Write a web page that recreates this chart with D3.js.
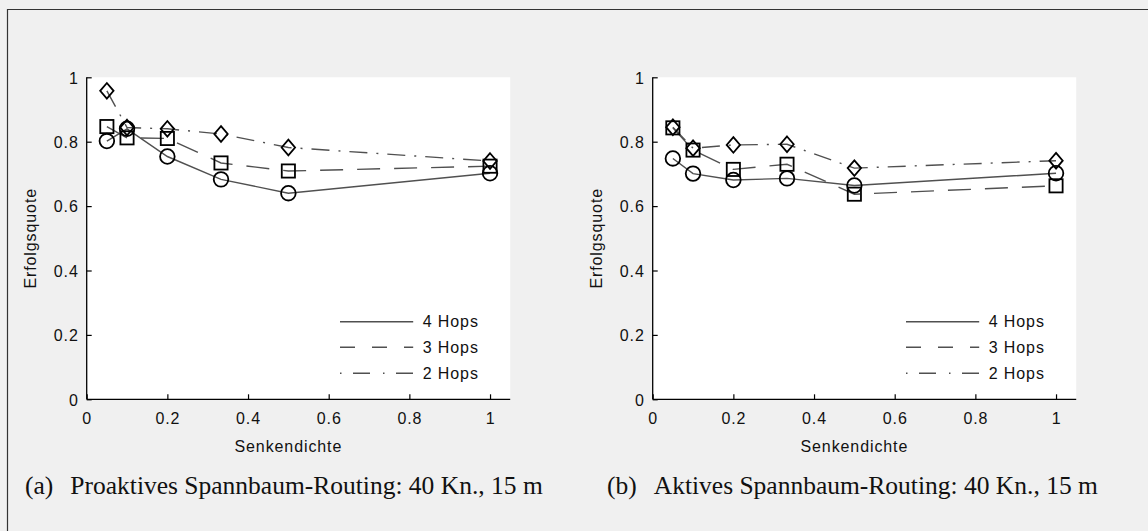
<!DOCTYPE html>
<html>
<head>
<meta charset="utf-8">
<script src="https://cdn.jsdelivr.net/npm/d3@7"></script>
<style>
  html, body { margin: 0; padding: 0; background: #f0f0f0; }
  svg { display: block; }
  .tick-text, .axis-label, .legend-text {
    font-family: 'Liberation Sans', Arial, Helvetica, sans-serif;
    font-size: 16px;
    letter-spacing: 0.9px;
    fill: #111;
  }
  .caption {
    font-family: 'Liberation Serif', 'Times New Roman', serif;
    font-size: 25.5px;
    fill: #111;
  }
</style>
</head>
<body>
<script>
// ===================================================================

const WIDTH = 1148
const HEIGHT = 531

const PLOT_TOP = 77.3
const PLOT_BOTTOM = 399.3
const PLOT_WIDTH = 423.5

// ===================================================================

const senkendichte = [ 0.05, 0.1, 0.2, 0.333, 0.5, 1 ]

const xTicks = [ 0, 0.2, 0.4, 0.6, 0.8, 1 ]
const yTicks = [ 0, 0.2, 0.4, 0.6, 0.8, 1 ]

const seriesNames = [ '4 Hops', '3 Hops', '2 Hops' ]

// (a) Proaktives Spannbaum-Routing
const proaktiv4 = [ 0.802, 0.840, 0.754, 0.683, 0.640, 0.702 ]
const proaktiv3 = [ 0.847, 0.812, 0.810, 0.734, 0.709, 0.724 ]
const proaktiv2 = [ 0.958, 0.844, 0.840, 0.824, 0.782, 0.740 ]

// (b) Aktives Spannbaum-Routing
const aktiv4 = [ 0.748, 0.701, 0.681, 0.686, 0.664, 0.702 ]
const aktiv3 = [ 0.843, 0.774, 0.714, 0.730, 0.637, 0.663 ]
const aktiv2 = [ 0.845, 0.780, 0.790, 0.792, 0.718, 0.741 ]

const captions = [
  [ '(a)', 'Proaktives Spannbaum-Routing: 40 Kn., 15 m' ],
  [ '(b)', 'Aktives Spannbaum-Routing: 40 Kn., 15 m' ]
]

// ===================================================================

const LINE_STYLES = [
  { dash: null, legendDash: null, marker: 'circle' },
  { dash: '23,14', legendDash: '15,17', marker: 'square' },
  { dash: '18,9,2,9', legendDash: '1.5,11.5,17,13', marker: 'diamond' }
]

const LINE_COLOR = '#505050'
const MARKER_COLOR = '#000'

// ===================================================================

const svg = d3.select('body')
  .append('svg')
    .attr('width', WIDTH)
    .attr('height', HEIGHT)

// outer frame (only top and left edges are visible)
svg.append('line')
  .attr('x1', 7).attr('x2', WIDTH)
  .attr('y1', 9.5).attr('y2', 9.5)
  .attr('stroke', '#333').attr('stroke-width', 1.2)
svg.append('line')
  .attr('x1', 7.5).attr('x2', 7.5)
  .attr('y1', 9).attr('y2', HEIGHT)
  .attr('stroke', '#333').attr('stroke-width', 1.2)

const drawMarker = (g, type, cx, cy) => {
  if (type === 'circle') {
    g.append('circle')
      .attr('cx', cx).attr('cy', cy).attr('r', 7.3)
  } else if (type === 'square') {
    g.append('rect')
      .attr('x', cx - 6.6).attr('y', cy - 6.6)
      .attr('width', 13.2).attr('height', 13.2)
  } else {
    g.append('path')
      .attr('d', `M${cx},${cy - 7.8}L${cx + 6.7},${cy}L${cx},${cy + 7.8}L${cx - 6.7},${cy}Z`)
  }
}

const drawPanel = (left, series, caption, captionX) => {
  const x = d3.scaleLinear()
    .domain([ 0, 1.05 ])
    .range([ left, left + PLOT_WIDTH ])
  const y = d3.scaleLinear()
    .domain([ 0, 1 ])
    .range([ PLOT_BOTTOM, PLOT_TOP ])

  const g = svg.append('g')

  // white plot area
  g.append('rect')
    .attr('x', x(0)).attr('y', y(1))
    .attr('width', x(1.05) - x(0))
    .attr('height', y(0) - y(1))
    .attr('fill', '#fff')

  // axes, MATLAB style: ticks pointing inward
  const xAxis = g.append('g')
    .attr('transform', `translate(0, ${y(0)})`)
    .call(d3.axisBottom(x).tickValues(xTicks).tickSize(-5).tickPadding(13).tickFormat(d3.format('')))
  const yAxis = g.append('g')
    .attr('transform', `translate(${x(0)}, 0)`)
    .call(d3.axisLeft(y).tickValues(yTicks).tickSize(-5).tickPadding(8).tickFormat(d3.format('')))

  ;[ xAxis, yAxis ].forEach(axis => {
    axis.select('.domain').attr('stroke', '#000').attr('stroke-width', 1.3)
    axis.selectAll('.tick line').attr('stroke', '#000').attr('stroke-width', 1.2)
    axis.selectAll('.tick text')
      .attr('class', 'tick-text')
      .attr('font-family', null)
      .attr('font-size', null)
      .attr('fill', null)
  })
  xAxis.select('.domain').attr('d', `M${x(0)},0H${x(1.05)}`)
  yAxis.select('.domain').attr('d', `M0,${y(0)}V${y(1)}`)
  yAxis.selectAll('.tick text').attr('dy', '0.36em')

  g.append('text')
    .attr('class', 'axis-label')
    .attr('x', x(0.5))
    .attr('y', 452)
    .attr('text-anchor', 'middle')
    .text('Senkendichte')

  g.append('text')
    .attr('class', 'axis-label')
    .attr('transform', `translate(${left - 51}, ${(y(0) + y(1)) / 2}) rotate(-90)`)
    .attr('text-anchor', 'middle')
    .text('Erfolgsquote')

  // lines
  const line = d3.line()
    .x((d, i) => x(senkendichte[i]))
    .y(d => y(d))

  series.forEach((values, k) => {
    g.append('path')
      .datum(values)
      .attr('d', line)
      .attr('fill', 'none')
      .attr('stroke', LINE_COLOR)
      .attr('stroke-width', 1.4)
      .attr('stroke-dasharray', LINE_STYLES[k].dash)
  })

  // markers
  series.forEach((values, k) => {
    const mg = g.append('g')
      .attr('fill', 'none')
      .attr('stroke', MARKER_COLOR)
      .attr('stroke-width', 1.8)
    values.forEach((v, i) => drawMarker(mg, LINE_STYLES[k].marker, x(senkendichte[i]), y(v)))
  })

  // legend
  const legendRows = [ 321.7, 347.3, 373.3 ]
  seriesNames.forEach((name, k) => {
    g.append('line')
      .attr('x1', left + 253.3).attr('x2', left + 326.5)
      .attr('y1', legendRows[k]).attr('y2', legendRows[k])
      .attr('stroke', LINE_COLOR)
      .attr('stroke-width', 1.4)
      .attr('stroke-dasharray', LINE_STYLES[k].legendDash)
    g.append('text')
      .attr('class', 'legend-text')
      .attr('x', left + 336)
      .attr('y', legendRows[k])
      .attr('dy', '0.36em')
      .text(name)
  })

  // caption
  const cap = svg.append('text')
    .attr('class', 'caption')
    .attr('x', captionX)
    .attr('y', 494)
  cap.append('tspan').text(caption[0])
  cap.append('tspan').attr('dx', 17).text(caption[1])
}

// ===================================================================

drawPanel(86.7, [ proaktiv4, proaktiv3, proaktiv2 ], captions[0], 25)
drawPanel(652.7, [ aktiv4, aktiv3, aktiv2 ], captions[1], 607)
</script>
</body>
</html>
